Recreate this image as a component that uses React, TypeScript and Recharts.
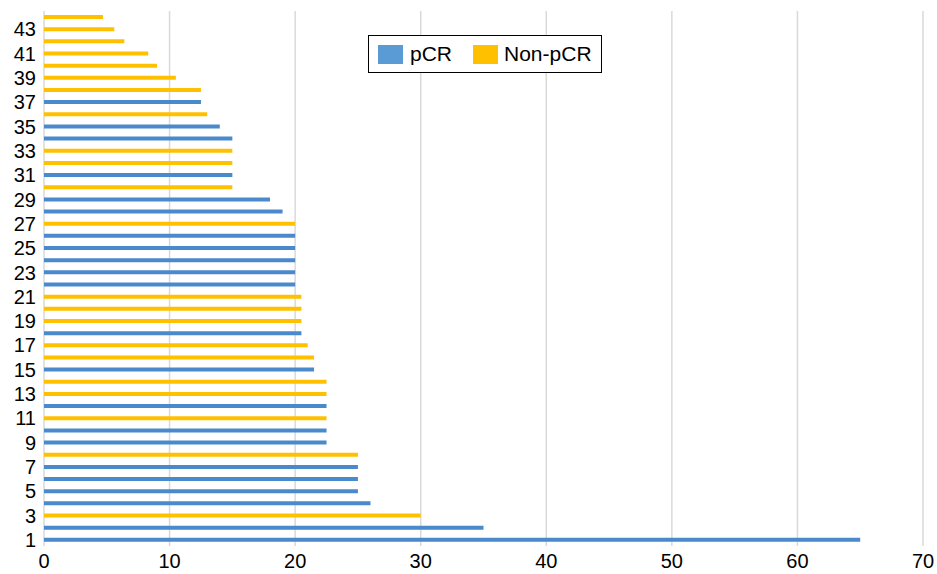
import { FC } from "react";
import { BarChart, Bar, XAxis, YAxis, CartesianGrid } from "recharts";

// patient index, bottom (1) to top (44)
const cases = Array.from({ length: 44 }, (_, i) => String(i + 1));

const values = [
  65, 35, 30, 26, 25, 25, 25, 25, 22.5, 22.5, 22.5, 22.5, 22.5, 22.5, 21.5, 21.5, 21, 20.5, 20.5, 20.5, 20.5, 20,
  20, 20, 20, 20, 20, 19, 18, 15, 15, 15, 15, 15, 14, 13, 12.5, 12.5, 10.5, 9, 8.3, 6.4, 5.6, 4.7,
];

// P = pCR, N = Non-pCR
const groups = [
  "P", "P", "N", "P", "P", "P", "P", "N", "P", "P", "N", "P", "N", "N", "P", "N", "N", "P", "N", "N", "N", "P",
  "P", "P", "P", "P", "N", "P", "P", "N", "P", "N", "N", "P", "P", "N", "P", "N", "N", "N", "N", "N", "N", "N",
];

const xTicks = [0, 10, 20, 30, 40, 50, 60, 70];

const BLUE = "#4a89cb";
const ORANGE = "#ffc000";
const FONT = "Liberation Sans, Arial, sans-serif";

const data = cases.map((name, i) => ({
  name,
  pCR: groups[i] === "P" ? values[i] : null,
  nonPCR: groups[i] === "N" ? values[i] : null,
}));

// legend drawn over the plot so it takes no room from the chart
const LegendBox: FC = () => (
  <div
    style={{
      position: "absolute",
      top: 35,
      left: 368,
      height: 36,
      boxSizing: "content-box",
      display: "flex",
      alignItems: "center",
      border: "1px solid #000",
      background: "#fff",
      padding: "0 9px",
      fontFamily: FONT,
      fontSize: 21,
      color: "#000",
    }}
  >
    <span style={{ width: 25, height: 19, background: "#5b9bd5", display: "inline-block", marginRight: 7 }} />
    <span style={{ marginRight: 21 }}>pCR</span>
    <span style={{ width: 25, height: 19, background: ORANGE, display: "inline-block", marginRight: 6 }} />
    <span>Non-pCR</span>
  </div>
);

export default function App() {
  return (
    <div style={{ position: "absolute", top: 0, left: 0, width: 937, height: 574, background: "#fff" }}>
      <BarChart
        width={937}
        height={574}
        data={data}
        layout="vertical"
        barSize={4}
        margin={{ top: 11, right: 14, left: 0, bottom: 0 }}
      >
        <CartesianGrid horizontal={false} stroke="#d9d9d9" strokeWidth={1.5} />
        <XAxis
          type="number"
          domain={[0, 70]}
          ticks={xTicks}
          axisLine={false}
          tickLine={false}
          height={28}
          tick={{ fontSize: 20, fill: "#000", fontFamily: FONT }}
        />
        <YAxis
          type="category"
          dataKey="name"
          reversed
          interval={1}
          width={44}
          axisLine={false}
          tickLine={false}
          tick={{ fontSize: 20, fill: "#000", fontFamily: FONT }}
        />
        <Bar dataKey="pCR" name="pCR" stackId="a" fill={BLUE} isAnimationActive={false} />
        <Bar dataKey="nonPCR" name="Non-pCR" stackId="a" fill={ORANGE} isAnimationActive={false} />
      </BarChart>
      <LegendBox />
    </div>
  );
}
